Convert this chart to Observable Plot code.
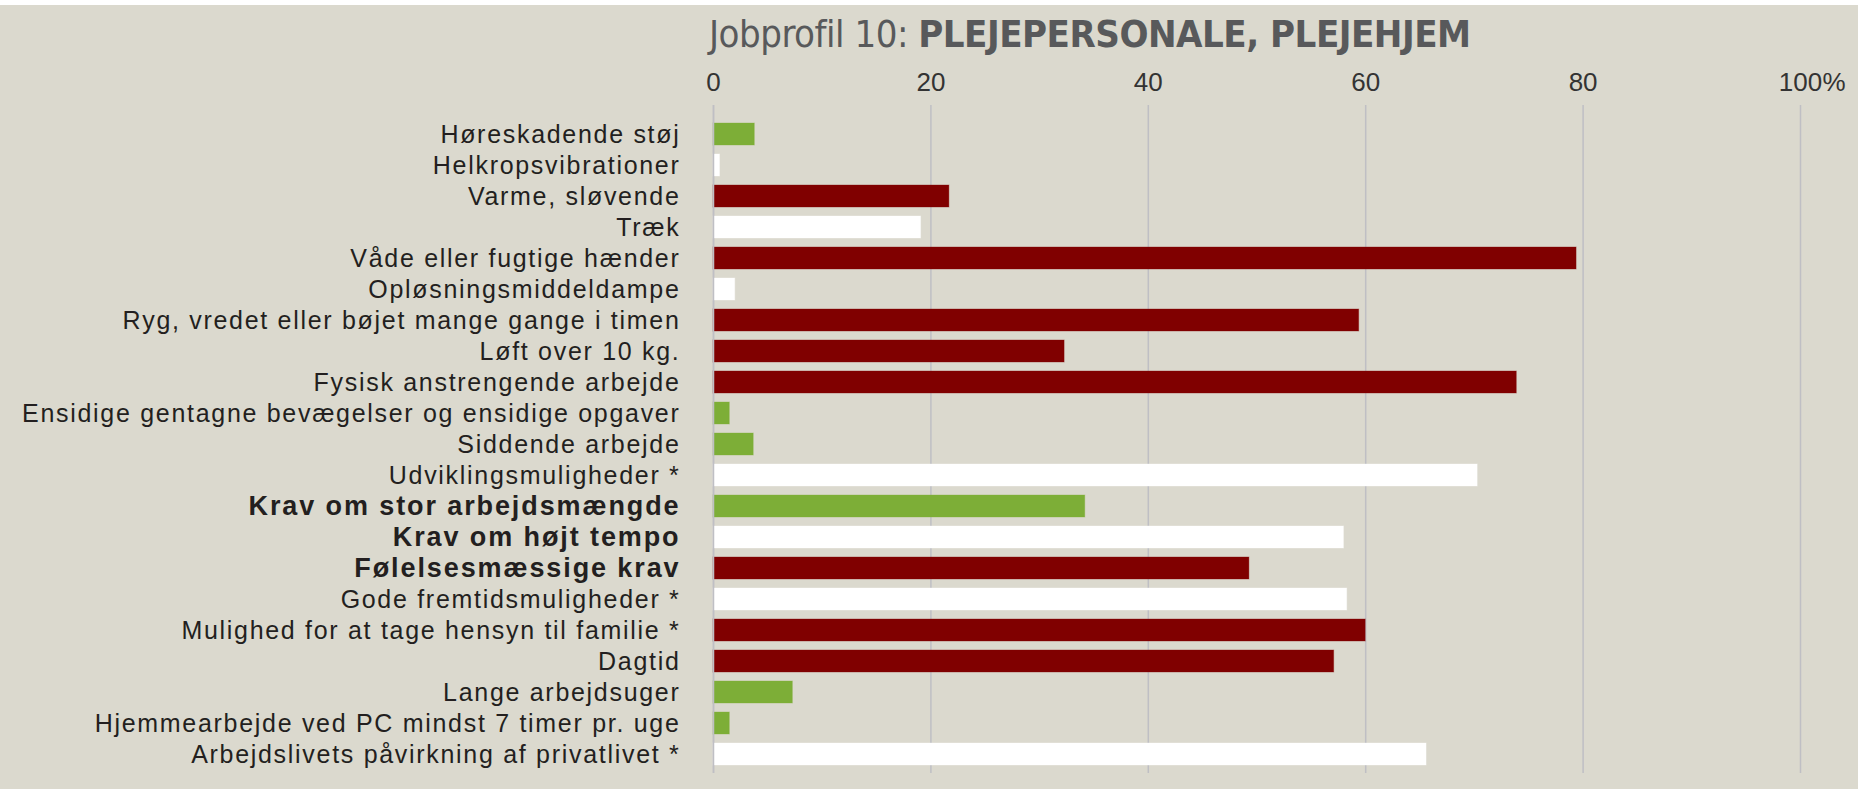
<!DOCTYPE html>
<html>
<head>
<meta charset="utf-8">
<script src="https://cdn.jsdelivr.net/npm/d3@7"></script>
<script src="https://cdn.jsdelivr.net/npm/@observablehq/plot@0.6"></script>
<style>
  html, body { margin: 0; padding: 0; background: #DBD9CE; width: 1858px; height: 789px; overflow: hidden; }
  #topband { position: absolute; left: 0; top: 0; width: 1858px; height: 5px; background: #ffffff; }
  #title { position: absolute; left: 709px; top: 12px; font-family: "Liberation Sans Narrow", "DejaVu Sans Condensed", sans-serif; font-size: 38px; color: #58595B; white-space: nowrap; letter-spacing: -0.5px; }
  #title .light { font-weight: normal; }
  #title .bold { font-weight: bold; }
  #chart { position: absolute; left: 0; top: 50px; }
  .ylabels text { letter-spacing: 1.7px; }
  .ylabelsbold text { letter-spacing: 1.9px; }
</style>
</head>
<body>
<div id="topband"></div>
<div id="title"><span class="light">Jobprofil 10: </span><span class="bold">PLEJEPERSONALE, PLEJEHJEM</span></div>
<div id="chart"></div>
<script>
const categories = [
  "Høreskadende støj",
  "Helkropsvibrationer",
  "Varme, sløvende",
  "Træk",
  "Våde eller fugtige hænder",
  "Opløsningsmiddeldampe",
  "Ryg, vredet eller bøjet mange gange i timen",
  "Løft over 10 kg.",
  "Fysisk anstrengende arbejde",
  "Ensidige gentagne bevægelser og ensidige opgaver",
  "Siddende arbejde",
  "Udviklingsmuligheder *",
  "Krav om stor arbejdsmængde",
  "Krav om højt tempo",
  "Følelsesmæssige krav",
  "Gode fremtidsmuligheder *",
  "Mulighed for at tage hensyn til familie *",
  "Dagtid",
  "Lange arbejdsuger",
  "Hjemmearbejde ved PC mindst 7 timer pr. uge",
  "Arbejdslivets påvirkning af privatlivet *"
];
const values = [3.8, 0.6, 21.7, 19.1, 79.4, 2.0, 59.4, 32.3, 73.9, 1.5, 3.7, 70.3, 34.2, 58.0, 49.3, 58.3, 60.0, 57.1, 7.3, 1.5, 65.6];
const groups = ["bedre", "som", "dårligere", "som", "dårligere", "som", "dårligere", "dårligere", "dårligere", "bedre", "bedre", "som", "bedre", "som", "dårligere", "som", "dårligere", "dårligere", "bedre", "bedre", "som"];
const boldCategories = ["Krav om stor arbejdsmængde", "Krav om højt tempo", "Følelsesmæssige krav"];
const xTicks = [0, 20, 40, 60, 80, 100];
const groupDomain = ["bedre", "som", "dårligere"];
const groupColors = ["#7DAE37", "#FFFFFF", "#800000"];

const data = categories.map((c, i) => ({category: c, value: values[i], group: groups[i]}));
const isBold = d => boldCategories.includes(d);

const chart = Plot.plot({
  width: 1858,
  height: 739,
  marginLeft: 713,
  marginRight: 58,
  marginTop: 55,
  marginBottom: 16,
  style: {background: "transparent", fontFamily: "'Liberation Sans', Arial, sans-serif"},
  x: {domain: [0, 100], ticks: xTicks, label: null},
  y: {domain: categories, axis: null, paddingInner: 0.28, paddingOuter: 0.14, insetTop: 13.5, insetBottom: 3, label: null},
  color: {domain: groupDomain, range: groupColors},
  marks: [
    Plot.gridX(xTicks, {stroke: "#BFBFC4", strokeOpacity: 1, strokeWidth: 1.5}),
    Plot.barX(data, {x: "value", y: "category", fill: "group", stroke: "group", strokeOpacity: 0.35, strokeWidth: 1}),
    Plot.ruleX([0], {stroke: "#BFBFC4", strokeWidth: 1.5}),
    Plot.axisX(xTicks, {anchor: "top", label: null, tickSize: 0, tickPadding: 15, fontSize: 26, fill: "#333333", tickFormat: d => String(d)}),
    Plot.text([100], {x: d => d, text: () => "%", frameAnchor: "top", textAnchor: "start", lineAnchor: "bottom", dx: 22, dy: -15, fontSize: 26, fill: "#333333"}),
    Plot.text(categories, {filter: d => !isBold(d), y: d => d, text: d => d, frameAnchor: "left", textAnchor: "end", dx: -33, fontSize: 25, fill: "#231F20", className: "ylabels"}),
    Plot.text(categories, {filter: isBold, y: d => d, text: d => d, frameAnchor: "left", textAnchor: "end", dx: -33, fontSize: 27, fontWeight: "bold", fill: "#231F20", className: "ylabelsbold"})
  ]
});
document.getElementById("chart").appendChild(chart);
</script>
</body>
</html>
